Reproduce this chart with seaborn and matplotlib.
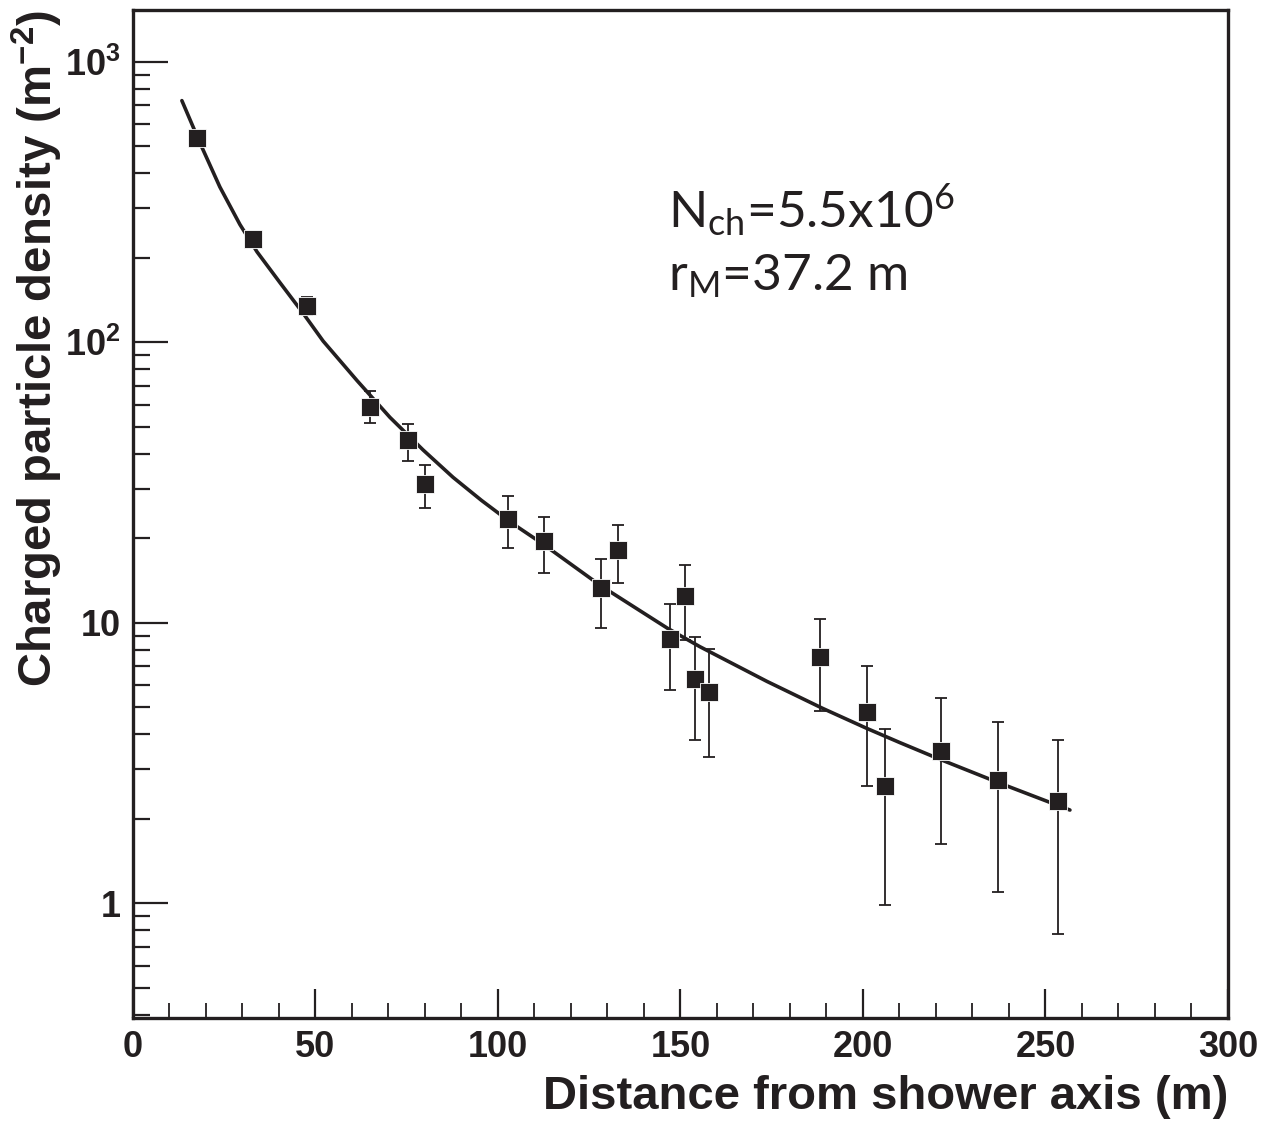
import matplotlib
matplotlib.use("Agg")
import matplotlib.pyplot as plt
import pandas as pd
import seaborn as sns
import numpy as np
from matplotlib.ticker import FixedLocator, FixedFormatter, LogLocator, NullFormatter, MultipleLocator

# measured points (distance in m, density in m^-2) and error bar ends
dist = [17.5, 32.9, 47.7, 64.9, 75.3, 80.0, 102.7, 112.6, 128.2, 132.9,
        147.1, 151.2, 154.0, 157.8, 188.2, 201.0, 206.0, 221.4, 237.0, 253.4]
density = [537, 233, 135, 59.0, 44.8, 31.2, 23.4, 19.6, 13.3, 18.2,
           8.77, 12.5, 6.32, 5.68, 7.57, 4.82, 2.61, 3.50, 2.76, 2.31]
err_hi = [555, 241, 144.5, 66.9, 51.1, 36.5, 28.3, 23.8, 16.9, 22.3,
          11.7, 16.1, 8.92, 8.08, 10.3, 7.03, 4.19, 5.41, 4.44, 3.83]
err_lo = [520, 226, 124.8, 51.5, 37.7, 25.7, 18.5, 15.1, 9.6, 13.9,
          5.78, 8.7, 3.83, 3.31, 4.86, 2.61, 0.99, 1.63, 1.10, 0.78]

# fitted curve
fit_dist = [13.4, 18.4, 23.8, 29.3, 34.0, 40.3, 46.6, 52.1, 61.4, 70.4, 79.5, 87.7,
            95.5, 103.3, 112.3, 128.0, 146.5, 155.3, 173.7, 189.0, 201.1, 210.1,
            221.1, 237.5, 256.7]
fit_density = [727, 512, 358, 263, 210, 163, 127, 101, 73.0, 54.0, 41.3, 33.0,
               27.3, 22.9, 19.1, 13.6, 9.55, 8.22, 6.18, 4.95, 4.20, 3.74,
               3.26, 2.68, 2.15]

y_ticks = [1, 10, 100, 1000]
y_labels = ["1", "10", r"$\mathbf{10^{2}}$", r"$\mathbf{10^{3}}$"]

df = pd.DataFrame({"dist": dist, "density": density, "hi": err_hi, "lo": err_lo})
df_fit = pd.DataFrame({"dist": fit_dist, "density": fit_density})

sns.set_theme(style="ticks")
plt.rcParams["font.family"] = ["Liberation Sans", "DejaVu Sans"]
plt.rcParams["font.weight"] = "bold"
plt.rcParams["mathtext.fontset"] = "custom"
plt.rcParams["mathtext.rm"] = "Lato:normal"
plt.rcParams["mathtext.bf"] = "Liberation Sans:bold"

ink = "#231f20"

fig = plt.figure(figsize=(12.64, 11.22), dpi=100)
ax = fig.add_axes([0.1052, 0.0927, 0.8663, 0.8984])

ax.errorbar(df["dist"], df["density"],
            yerr=[df["density"] - df["lo"], df["hi"] - df["density"]],
            fmt="none", ecolor=ink, elinewidth=1.3, capsize=4.5, capthick=1.3, zorder=2)
sns.lineplot(data=df_fit, x="dist", y="density", color=ink, linewidth=2.6, ax=ax, zorder=3)
sns.scatterplot(data=df, x="dist", y="density", marker="s", s=180, color=ink,
                edgecolor="white", linewidth=0.6, ax=ax, zorder=4)

ax.set_yscale("log")
ax.set_xlim(0, 300)
ax.set_ylim(0.39, 1530)

ax.xaxis.set_major_locator(MultipleLocator(50))
ax.xaxis.set_minor_locator(MultipleLocator(10))
ax.yaxis.set_major_locator(FixedLocator(y_ticks))
ax.yaxis.set_major_formatter(FixedFormatter(y_labels))
ax.yaxis.set_minor_locator(LogLocator(base=10, subs=np.arange(2, 10)))
ax.yaxis.set_minor_formatter(NullFormatter())

ax.tick_params(axis="both", which="both", direction="in", color=ink, labelcolor=ink,
               top=False, right=False)
ax.tick_params(axis="both", which="major", labelsize=26, pad=9, width=1.6)
ax.tick_params(axis="x", which="major", length=21)
ax.tick_params(axis="x", which="minor", length=11, width=1.3)
ax.tick_params(axis="y", which="major", length=25)
ax.tick_params(axis="y", which="minor", length=12, width=1.6)

for sp in ax.spines.values():
    sp.set_linewidth(2.4)
    sp.set_color(ink)

ax.set_xlabel("Distance from shower axis (m)", fontsize=34, fontweight="bold",
              color=ink, ha="right", va="top")
ax.xaxis.set_label_coords(1.0, -0.057)
ax.set_ylabel(r"Charged particle density (m$^{\mathbf{-2}}$)", fontsize=34, fontweight="bold",
              color=ink, ha="right", va="bottom")
ax.yaxis.set_label_coords(-0.062, 1.0)

ax.text(0.4886, 0.784, r"N$\mathrm{_{ch}}$=5.5x10$\mathrm{^{6}}$", transform=ax.transAxes,
        fontsize=37, family="Lato", fontweight="normal", color=ink, va="baseline", ha="left")
ax.text(0.4886, 0.722, r"r$\mathrm{_{M}}$=37.2 m", transform=ax.transAxes,
        fontsize=37, family="Lato", fontweight="normal", color=ink, va="baseline", ha="left")

fig.savefig("out.png", dpi=100, facecolor="white")
